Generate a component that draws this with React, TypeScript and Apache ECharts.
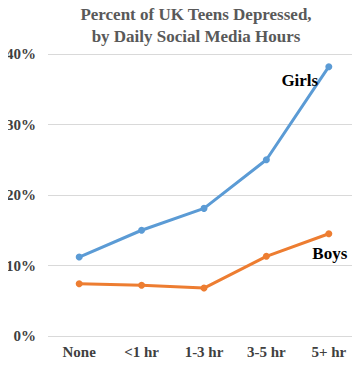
import React, { useEffect, useRef } from "react";
import * as echarts from "echarts";

const categories = ["None", "<1 hr", "1-3 hr", "3-5 hr", "5+ hr"];
const girls = [11.2, 15.0, 18.1, 25.0, 38.2];
const boys = [7.4, 7.2, 6.8, 11.3, 14.5];
const yTicks = [0, 10, 20, 30, 40];

const FONT = "'Liberation Serif', 'Times New Roman', serif";

export default function App() {
  const ref = useRef<HTMLDivElement>(null);
  useEffect(() => {
    if (!ref.current) return;
    const chart = echarts.init(ref.current, undefined, { renderer: "svg" });
    const lastLabel = (text: string, off: number[]) => ({
      show: true,
      formatter: (p: any) => (p.dataIndex === categories.length - 1 ? text : ""),
      position: "inside",
      offset: off,
      fontFamily: FONT,
      fontWeight: "bold",
      fontSize: 17,
      color: "#000",
    });
    chart.setOption({
      animation: false,
      backgroundColor: "#fff",
      title: {
        text: "Percent of UK Teens Depressed,\nby Daily Social Media Hours",
        left: 191,
        top: -2,
        textAlign: "center",
        textStyle: {
          fontFamily: FONT,
          fontWeight: "bold",
          fontSize: 17,
          color: "#595959",
          lineHeight: 22,
        },
      },
      grid: { left: 48, right: -8, top: 54, bottom: 29, containLabel: false },
      xAxis: {
        type: "category",
        data: categories,
        boundaryGap: true,
        axisLine: { show: false },
        axisTick: { show: false },
        axisLabel: {
          fontFamily: FONT,
          fontWeight: "bold",
          fontSize: 15,
          lineHeight: 15,
          color: "#404040",
          margin: 8,
        },
      },
      yAxis: {
        type: "value",
        min: yTicks[0],
        max: yTicks[yTicks.length - 1],
        interval: 10,
        axisLine: { show: false },
        axisTick: { show: false },
        splitLine: { lineStyle: { color: "#d9d9d9", width: 1 } },
        axisLabel: {
          formatter: "{value}%",
          fontFamily: FONT,
          fontWeight: "bold",
          fontSize: 15,
          color: "#404040",
          margin: 12,
        },
      },
      series: [
        {
          name: "Girls",
          type: "line",
          data: girls,
          color: "#5B9BD5",
          lineStyle: { width: 3, color: "#5B9BD5" },
          symbol: "circle",
          symbolSize: 7,
          itemStyle: { color: "#5B9BD5" },
          label: lastLabel("Girls", [-29, 14]),
        },
        {
          name: "Boys",
          type: "line",
          data: boys,
          color: "#ED7D31",
          lineStyle: { width: 3, color: "#ED7D31" },
          symbol: "circle",
          symbolSize: 7,
          itemStyle: { color: "#ED7D31" },
          label: lastLabel("Boys", [1, 20]),
        },
      ],
    });
    return () => chart.dispose();
  }, []);
  return <div ref={ref} style={{ width: 360, height: 365, margin: -8 }} />;
}
